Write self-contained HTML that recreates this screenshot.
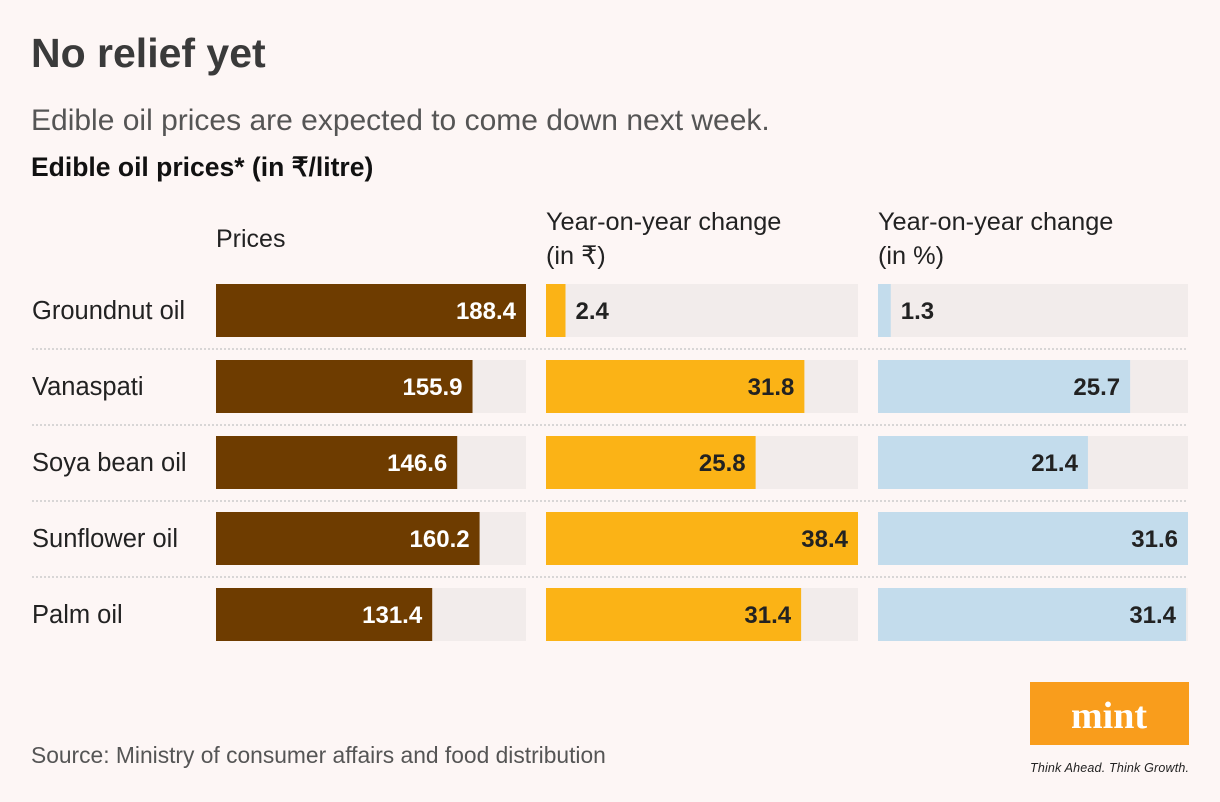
<!DOCTYPE html>
<html><head><meta charset="utf-8">
<style>
html,body{margin:0;padding:0;background:#fdf6f5;}
body{width:1220px;height:802px;overflow:hidden;position:relative;font-family:"Liberation Sans",sans-serif;}
svg{position:absolute;left:0;top:0;}
</style></head>
<body>
<svg id="chart" width="1220" height="802">
<text x="31" y="67" font-size="41" font-weight="bold" fill="#3a3a3a">No relief yet</text>
<text x="31" y="130" font-size="30" fill="#555">Edible oil prices are expected to come down next week.</text>
<text x="31" y="176" font-size="26.5" font-weight="bold" fill="#111">Edible oil prices* (in ₹/litre)</text>
<text x="216" y="247" font-size="25" fill="#222">Prices</text>
<text x="546" y="230" font-size="25.3" fill="#222">Year-on-year change</text>
<text x="546" y="264" font-size="25.3" fill="#222">(in ₹)</text>
<text x="878" y="230" font-size="25.3" fill="#222">Year-on-year change</text>
<text x="878" y="264" font-size="25.3" fill="#222">(in %)</text>
<g id="rows"></g>
<text x="31" y="763" font-size="22.8" fill="#555">Source: Ministry of consumer affairs and food distribution</text>
<rect x="1030" y="682" width="159" height="63" fill="#f99d1c"/>
<text x="1109" y="728" font-size="38" font-weight="bold" font-family="Liberation Serif,serif" fill="#fff" text-anchor="middle">mint</text>
<text x="1030" y="772" font-size="12.5" font-style="italic" fill="#222" textLength="159">Think Ahead. Think Growth.</text>
</svg>
<script>
const categories = ["Groundnut oil","Vanaspati","Soya bean oil","Sunflower oil","Palm oil"];
const prices = [188.4,155.9,146.6,160.2,131.4];
const yoyRupee = [2.4,31.8,25.8,38.4,31.4];
const yoyPct = [1.3,25.7,21.4,31.6,31.4];

const NS="http://www.w3.org/2000/svg";
const g=document.getElementById('rows');
const cols=[
 {vals:prices,x:216,w:310,max:188.4,color:"#6e3c00",txt:"#fff",name:"price"},
 {vals:yoyRupee,x:546,w:312,max:38.4,color:"#fbb316",txt:"#222",name:"yoy-rupee"},
 {vals:yoyPct,x:878,w:310,max:31.6,color:"#c3dcec",txt:"#222",name:"yoy-pct"}
];
function mk(tag,attrs){const e=document.createElementNS(NS,tag);for(const k in attrs)e.setAttribute(k,attrs[k]);g.appendChild(e);return e;}
categories.forEach((c,i)=>{
 const y=284+i*76;
 const t=mk('text',{x:32,y:y+35,'font-size':25.5,fill:'#222'});
 t.textContent=c;
 
 
 if(i>0){
  const l=mk('line',{x1:32,x2:1188,y1:y-11,y2:y-11,stroke:'#ccc','stroke-width':1.5,'stroke-dasharray':'2,2'});
  
  
 }
 cols.forEach(col=>{
  const v=col.vals[i];
  const bg=mk('rect',{x:col.x,y:y,width:col.w,height:53,fill:'#f2eceb'});
  
  
  const bw=col.w*v/col.max;
  const b=mk('rect',{x:col.x,y:y,width:bw,height:53,fill:col.color});
  
  
  const inside=bw>80;
  const lt=mk('text',{x:inside?col.x+bw-10:col.x+bw+10,y:y+35,'font-size':24,'font-weight':'bold',fill:inside?col.txt:'#222','text-anchor':inside?'end':'start'});
  lt.textContent=v.toFixed(1);
  
  
 });
});
</script>
</body></html>
